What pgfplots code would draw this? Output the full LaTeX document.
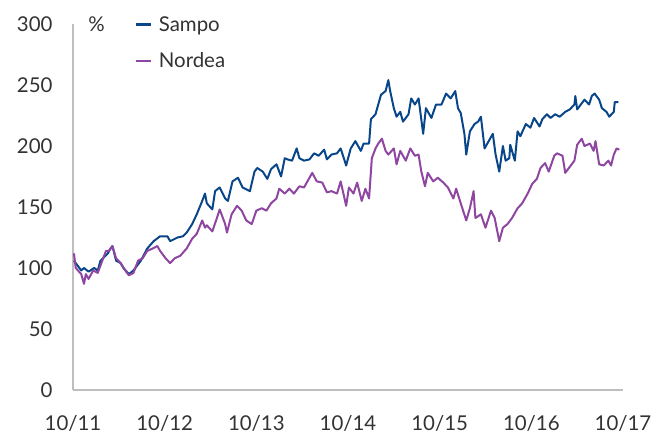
\documentclass[border=0pt]{standalone}
\usepackage{fontspec}
\setmainfont{Lato}
\usepackage{pgfplots}
\pgfplotsset{compat=1.18}
\definecolor{sampo}{RGB}{8,70,137}
\definecolor{nordea}{RGB}{142,70,160}
\definecolor{axgray}{RGB}{190,190,190}
\definecolor{txt}{RGB}{51,51,51}
\begin{document}
\begin{tikzpicture}
\begin{axis}[
  scale only axis,
  width=550bp, height=366bp,
  xmin=0, xmax=6, ymin=0, ymax=300,
  axis x line=bottom, axis y line=left,
  axis line style={axgray, line width=1.2pt, -},
  xtick={0,1,2,3,4,5,6},
  xticklabels={10/11,10/12,10/13,10/14,10/15,10/16,10/17},
  ytick={0,50,100,150,200,250,300},
  major tick length=0pt,
  tick style={draw=none},
  /pgf/number format/assume math mode=true,
  every tick label/.append style={font=\fontsize{20.5}{24}\selectfont, text=txt},
  yticklabel style={xshift=-17bp},
  xticklabel style={yshift=-22bp},
  clip=false,
  legend cell align=left,
  legend style={draw=none, fill=none, at={(rel axis cs:0.112,1.027)}, anchor=north west,
    font=\fontsize{20.5}{24}\selectfont, text=txt, row sep=16bp, inner sep=0pt},
  legend image code/.code={\draw[#1, line width=2.2pt] (0bp,0bp) -- (15bp,0bp); \path (20bp,0bp);},
  every axis plot/.append style={line width=2pt, line join=round},
]
\addplot[sampo] coordinates {
(0.01,106) (0.09,98) (0.12,100) (0.17,97) (0.23,100) (0.27,98) (0.30,106) (0.38,112)
(0.41,116) (0.43,118) (0.47,106) (0.52,104) (0.55,100) (0.61,95) (0.66,98) (0.74,106)
(0.81,116) (0.88,122) (0.95,126) (1.03,126) (1.06,122) (1.14,125) (1.20,126) (1.24,129)
(1.30,136) (1.35,144) (1.41,155) (1.44,161) (1.46,153) (1.52,148) (1.55,163) (1.60,166)
(1.66,157) (1.69,155) (1.74,171) (1.80,174) (1.85,166) (1.93,163) (1.98,179) (2.01,182)
(2.07,179) (2.12,173) (2.16,181) (2.22,185) (2.27,175) (2.31,190) (2.34,189) (2.39,188)
(2.44,198) (2.47,190) (2.52,188) (2.58,189) (2.63,194) (2.68,192) (2.74,197) (2.77,189)
(2.82,193) (2.88,194) (2.92,198) (2.98,184) (3.03,198) (3.08,204) (3.14,196) (3.17,202)
(3.23,202) (3.25,222) (3.30,226) (3.36,242) (3.41,245) (3.44,254) (3.46,245) (3.50,231)
(3.53,224) (3.57,228) (3.60,220) (3.66,226) (3.69,239) (3.73,234) (3.77,239) (3.82,210)
(3.85,231) (3.91,223) (3.96,234) (4.02,234) (4.07,243) (4.12,239) (4.17,245) (4.20,231)
(4.23,227) (4.27,210) (4.29,193) (4.33,212) (4.38,218) (4.42,220) (4.45,224) (4.49,198)
(4.55,206) (4.58,210) (4.61,193) (4.65,179) (4.69,200) (4.72,188) (4.76,190) (4.77,201)
(4.82,188) (4.85,212) (4.88,208) (4.94,218) (4.99,215) (5.03,223) (5.09,216) (5.12,222)
(5.17,226) (5.21,223) (5.26,226) (5.31,224) (5.37,228) (5.42,230) (5.47,234) (5.48,241)
(5.50,230) (5.55,235) (5.58,238) (5.63,234) (5.66,241) (5.69,243) (5.74,238) (5.77,231)
(5.82,228) (5.85,224) (5.90,228) (5.91,236) (5.95,236)
};
\addlegendentry{Sampo}
\addplot[nordea] coordinates {
(0.01,112) (0.03,100) (0.09,95) (0.12,87) (0.14,95) (0.17,91) (0.22,98) (0.27,96)
(0.32,106) (0.36,114) (0.39,114) (0.43,118) (0.47,108) (0.52,104) (0.57,98) (0.61,94)
(0.66,96) (0.71,106) (0.76,108) (0.81,114) (0.87,116) (0.92,118) (0.95,114) (1.01,108)
(1.06,104) (1.11,108) (1.17,110) (1.24,116) (1.30,124) (1.35,128) (1.41,139) (1.44,133)
(1.46,135) (1.52,130) (1.57,141) (1.60,148) (1.66,136) (1.68,129) (1.73,144) (1.79,151)
(1.84,147) (1.89,139) (1.95,136) (2.00,147) (2.06,149) (2.11,147) (2.16,153) (2.22,157)
(2.25,165) (2.31,161) (2.36,165) (2.41,161) (2.47,167) (2.52,166) (2.58,174) (2.61,178)
(2.66,171) (2.72,170) (2.77,162) (2.82,163) (2.88,161) (2.92,171) (2.98,151) (3.01,166)
(3.06,161) (3.10,170) (3.15,155) (3.19,165) (3.23,157) (3.26,190) (3.30,198) (3.33,202)
(3.37,206) (3.41,196) (3.44,193) (3.50,198) (3.53,185) (3.57,196) (3.63,188) (3.68,198)
(3.73,192) (3.77,193) (3.80,179) (3.84,167) (3.87,178) (3.93,171) (3.98,174) (4.04,170)
(4.09,166) (4.15,157) (4.18,165) (4.23,153) (4.29,139) (4.33,149) (4.37,163) (4.39,141)
(4.45,144) (4.50,133) (4.56,147) (4.60,141) (4.65,122) (4.69,133) (4.74,136) (4.79,141)
(4.85,149) (4.90,153) (4.96,161) (5.01,169) (5.06,173) (5.10,182) (5.15,186) (5.19,179)
(5.25,192) (5.28,194) (5.34,192) (5.37,178) (5.41,182) (5.47,188) (5.50,201) (5.55,206)
(5.58,200) (5.64,202) (5.68,196) (5.70,204) (5.74,185) (5.79,184) (5.84,188) (5.87,184)
(5.90,193) (5.93,198) (5.96,197)
};
\addlegendentry{Nordea}
\node[font=\fontsize{20.5}{24}\selectfont, text=txt] at (rel axis cs:0.043,1.0) {\%};
\coordinate (O) at (rel axis cs:0,0);
\end{axis}
\path (O) ++(-73bp,-49bp) rectangle ++(658bp,439bp);
\end{tikzpicture}
\end{document}
